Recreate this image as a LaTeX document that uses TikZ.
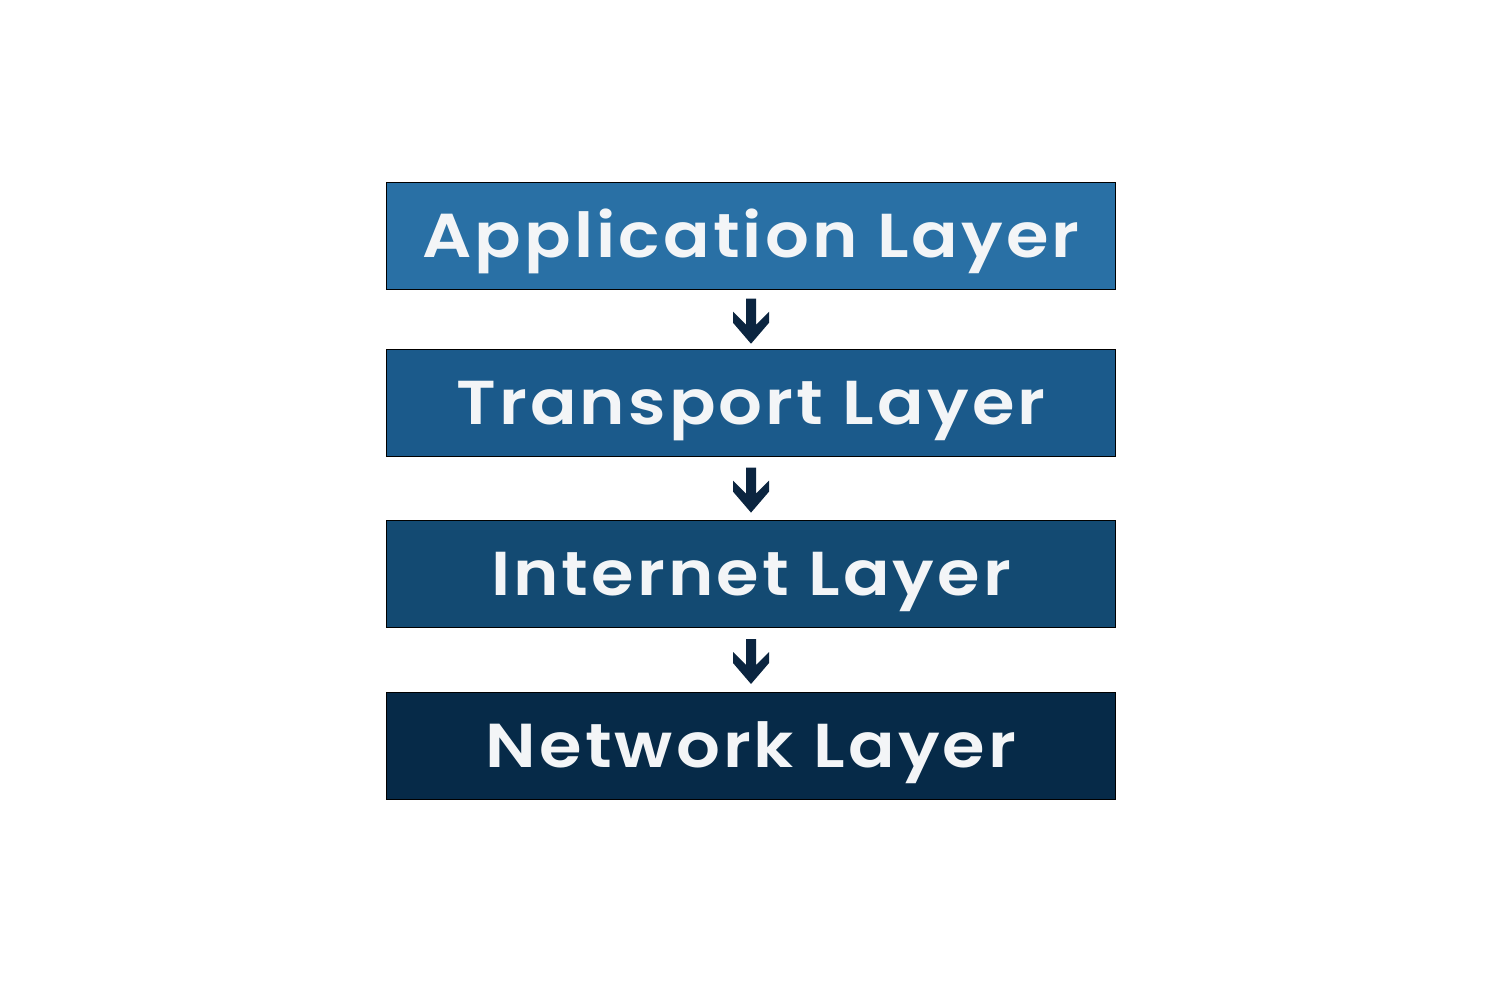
\documentclass[tikz,border=0pt]{standalone}
\usepackage{fontspec}
\newfontfamily\labfont{Poppins SemiBold}[FakeStretch=1.11, LetterSpace=5]
\usetikzlibrary{calc}
\definecolor{appcol}{HTML}{2970A5}
\definecolor{tracol}{HTML}{1B5A8B}
\definecolor{intcol}{HTML}{134A72}
\definecolor{netcol}{HTML}{062A48}
\definecolor{arrcol}{HTML}{0B2540}
\definecolor{txtcol}{HTML}{F3F5F7}
\tikzset{
  layerbox/.style={draw=black, line width=1pt, minimum width=729pt, minimum height=107pt, inner sep=0pt},
  layertext/.style={text=txtcol, font=\labfont\fontsize{62}{62}\selectfont, anchor=base, inner sep=0pt},
}
\newcommand\dnarrow[2]{%
  \path let \p1=(#1.south), \p2=(#2.north) in coordinate (mid) at (\x1,{(\y1+\y2)/2-2});
  \fill[arrcol, shift={(mid)}] (-5,-22.5) -- (5,-22.5) -- (5,3.5) -- (18,-9.5) -- (18,1.5) -- (0,22.5) -- (-18,1.5) -- (-18,-9.5) -- (-5,3.5) -- cycle;
}
\begin{document}
\begin{tikzpicture}[x=1pt,y=-1pt]
\useasboundingbox (0,0) rectangle (1500,1000);
\node[layerbox, fill=appcol] (app) at (751,235.75) {};
\node[layerbox, fill=tracol] (tra) at (751,402.75) {};
\node[layerbox, fill=intcol] (int) at (751,573.5) {};
\node[layerbox, fill=netcol] (net) at (751,745.5) {};
\node[layertext] (tapp) at ($(app.center)+(0,22)$) {Application Layer};
\node[layertext] (ttra) at ($(tra.center)+(0,22)$) {Transport Layer};
\node[layertext] (tint) at ($(int.center)+(0,22)$) {Internet Layer};
\node[layertext] (tnet) at ($(net.center)+(0,22)$) {Network Layer};
\dnarrow{app}{tra}
\dnarrow{tra}{int}
\dnarrow{int}{net}
\end{tikzpicture}
\end{document}
